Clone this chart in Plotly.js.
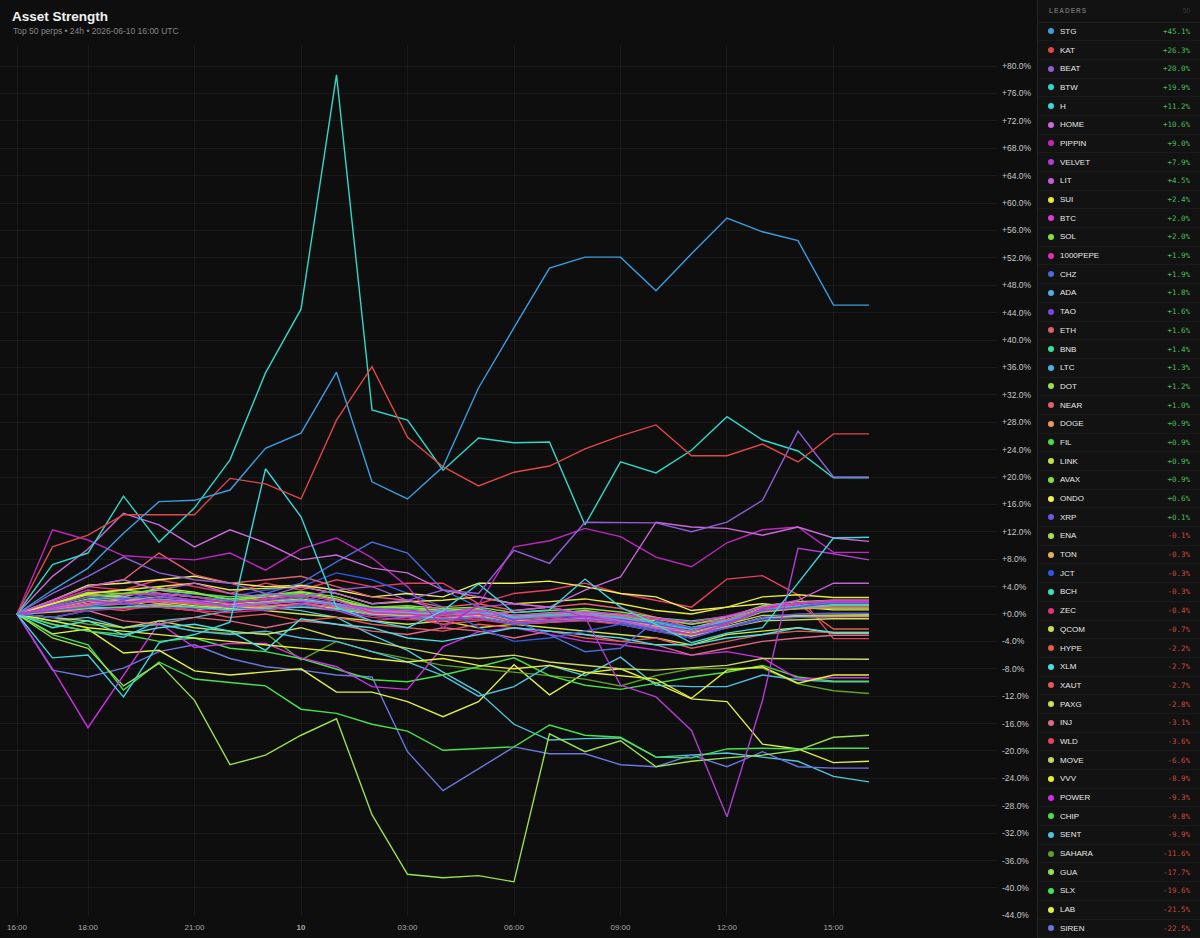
<!DOCTYPE html>
<html><head><meta charset="utf-8">
<script src="https://cdn.plot.ly/plotly-3.0.1.min.js"></script>
<style>
html,body{margin:0;padding:0;background:#0e0e0e;width:1200px;height:938px;overflow:hidden;font-family:"Liberation Sans",Arial,sans-serif;}
#chart{position:absolute;left:0;top:0;width:1037px;height:938px;}
#panel{position:absolute;left:1037px;top:0;width:163px;height:938px;background:#121212;border-left:1px solid #232323;box-sizing:border-box;overflow:hidden;}
.hdr{height:22.5px;display:flex;align-items:center;justify-content:space-between;padding:0 10px 0 11px;border-bottom:1px solid #1e1e1e;box-sizing:border-box;font-size:6.5px;font-weight:bold;letter-spacing:1px;color:#6a6a6a;}
.hdr .n{color:#3a3a3a;font-weight:normal;letter-spacing:0}
.row{height:18.7px;display:flex;align-items:center;padding:0 10px 0 10px;border-bottom:1px solid #1a1a1a;box-sizing:border-box;}
.dot{width:6px;height:6px;border-radius:50%;margin-right:6px;flex:none;}
.nm{flex:1;font-size:8px;color:#e8e8e8;}
.val{font-family:"DejaVu Sans Mono","Liberation Mono",monospace;font-size:7.5px;}
</style></head>
<body>
<div id="chart"></div>
<div id="panel"></div>
<script>
// hours since 2026-06-09 16:00 UTC (hourly samples)
const hours = [0,1,2,3,4,5,6,7,8,9,10,11,12,13,14,15,16,17,18,19,20,21,22,23,24];
const tickHours = [0,2,5,8,11,14,17,20,23];
const tickLabels = ['16:00','18:00','21:00','<b>10</b>','03:00','06:00','09:00','12:00','15:00'];

const names = ['STG','KAT','BEAT','BTW','H','HOME','PIPPIN','VELVET','LIT','SUI','BTC','SOL','1000PEPE','CHZ','ADA','TAO','ETH','BNB','LTC','DOT','NEAR','DOGE','FIL','LINK','AVAX','ONDO','XRP','ENA','TON','JCT','BCH','ZEC','QCOM','HYPE','XLM','XAUT','PAXG','INJ','WLD','MOVE','VVV','POWER','CHIP','SENT','SAHARA','GUA','SLX','LAB','SIREN','…'];
const colors = ['#3b9ee0','#e04848','#8e5fd6','#2fd8c8','#38d8e0','#c86ad8','#c026c0','#b03ed0','#c060d8','#e8e83a','#e03ad8','#80e040','#e030b8','#4a6ad8','#4ab0e8','#7a4ae0','#e06070','#3ae0a0','#4ab0e8','#98e050','#e06070','#e89a58','#48e040','#c0e050','#88e040','#f0f058','#6a58e0','#a8e050','#e8b058','#3058e0','#38e0c8','#e03080','#c8e058','#e06048','#48e0e0','#e05858','#d0e048','#e06888','#e84060','#c8d860','#e8f030','#d030e8','#48e048','#50c0e0','#60a028','#98e050','#48e050','#e0f048','#6878e0','#50c8d8'];

// % change from 16:00, one array per perp
const s_STG = [0,3.5,6.7,11.8,16.4,16.6,18.1,24.2,26.4,35.3,19.3,16.8,21.5,33.0,41.8,50.5,52.1,52.1,47.2,52.6,57.8,55.8,54.5,45.1,45.1];
const s_KAT = [0,9.8,11.5,14.5,14.5,14.5,19.8,19.0,16.8,28.3,36.1,25.8,21.5,18.7,20.7,21.6,24.1,26.0,27.6,23.1,23.1,24.8,22.2,26.3,26.3];
const s_BEAT = [0,3.0,5.5,8.3,6.0,5.0,4.5,3.0,2.5,3.5,4.0,2.0,3.5,3.0,9.3,7.4,13.4,13.3,13.3,12.0,13.4,16.6,26.7,20.0,20.0];
const s_BTW = [0,7.2,8.9,17.2,10.5,15.5,22.5,35.2,44.5,78.7,29.8,28.3,21.0,25.7,25.0,25.1,13.0,22.2,20.6,23.9,28.8,25.4,23.8,19.9,19.9];
const s_H = [0,-6.4,-6.0,-12.1,-4.2,-3.0,-1.2,21.2,14.2,1.0,-1.0,-2.0,0.5,4.4,0.2,0.6,5.1,1.0,-1.5,-4.2,-2.8,-2.0,4.5,11.1,11.2];
const s_HOME = [0,5.5,9.5,14.7,13.0,9.8,12.3,10.4,7.9,8.6,6.7,6.0,3.5,2.5,1.5,1.0,3.5,5.4,13.4,12.7,12.5,11.5,12.7,11.1,10.6];
const s_PIPPIN = [0,12.3,10.8,8.5,8.2,7.9,8.9,6.4,9.5,11.1,8.2,4.0,-2.0,1.3,9.8,10.7,12.5,11.3,8.3,6.9,10.4,12.3,12.7,9.0,9.0];
const s_VELVET = [0,1.0,2.0,1.5,2.5,2.0,1.0,0.5,1.5,0.5,-1.0,-0.5,0.0,1.0,1.5,1.0,-0.4,-10.4,-12.1,-17.0,-29.6,-12.6,9.6,8.8,7.9];
const s_LIT = [0,2.0,4.0,5.0,3.5,4.5,3.0,2.5,4.0,3.0,1.5,2.0,0.5,-0.5,0.5,1.0,0.0,-1.0,-2.0,-2.5,-0.5,1.0,2.0,4.5,4.5];
const s_SUI = [0,1.5,3.0,3.5,4.0,4.5,3.5,3.8,4.0,3.0,1.5,1.8,2.0,2.5,1.5,1.8,2.2,1.5,0.5,0.0,1.0,2.5,2.8,2.4,2.4];
const s_BTC = [0,0.8,1.5,1.8,2.0,1.7,1.2,1.5,1.8,1.3,0.6,0.4,0.2,0.5,-0.2,0.1,0.3,0.0,-0.6,-1.2,-0.3,1.0,1.6,2.0,2.0];
const s_SOL = [0,1.5,3.2,3.0,3.5,3.0,2.2,2.8,3.3,2.5,1.0,1.2,0.8,1.0,0.2,0.5,0.8,0.3,-0.5,-1.5,-0.5,1.2,1.8,2.0,2.0];
const s_1000PEPE = [0,1.8,3.5,2.8,3.0,2.5,1.5,2.2,2.8,2.0,0.2,0.0,-0.5,0.0,-1.2,-0.8,-0.5,-1.0,-2.0,-3.0,-1.5,0.8,1.5,1.9,1.9];
const s_CHZ = [0,0.5,1.0,2.0,3.5,2.5,2.0,3.0,4.5,7.6,10.5,8.9,3.5,1.0,-1.0,-3.0,-5.5,-5.0,-1.0,-2.0,-1.5,0.5,1.0,1.9,1.9];
const s_ADA = [0,1.0,2.0,2.5,2.0,1.8,1.0,1.5,2.0,1.5,0.5,0.0,0.5,0.2,-0.5,-0.2,0.0,-0.5,-1.2,-2.0,-1.0,0.5,1.2,1.8,1.8];
const s_TAO = [0,1.2,2.5,2.2,2.8,2.0,1.8,2.0,2.5,1.5,0.8,0.6,0.0,0.3,-0.8,-0.5,-0.3,-0.8,-1.5,-2.5,-1.2,0.6,1.0,1.6,1.6];
const s_ETH = [0,0.5,1.2,1.5,1.8,1.5,1.0,1.2,1.5,1.0,0.2,0.0,-0.2,0.0,-0.5,-0.3,0.0,-0.3,-0.8,-1.5,-0.8,0.6,1.2,1.6,1.6];
const s_BNB = [0,0.4,0.9,1.0,1.2,1.0,0.6,0.8,1.0,0.7,0.2,0.1,0.0,0.2,-0.2,0.0,0.2,-0.1,-0.5,-1.0,-0.4,0.5,1.0,1.4,1.4];
const s_LTC = [0,1.0,2.0,1.5,2.2,1.8,1.2,1.6,2.0,1.2,0.3,0.2,0.0,0.4,-0.6,-0.2,0.0,-0.6,-1.5,-2.2,-1.0,0.5,1.0,1.3,1.3];
const s_DOT = [0,1.5,3.0,3.5,3.0,2.5,2.0,2.5,2.8,2.0,0.8,1.0,0.5,0.8,-0.3,0.0,0.5,-0.2,-1.0,-2.0,-0.8,0.8,1.0,1.2,1.2];
const s_NEAR = [0,2.0,4.0,5.0,8.9,5.7,4.5,5.0,5.5,4.0,2.5,2.0,1.0,1.5,0.5,1.0,1.5,0.8,-0.5,-2.0,-1.0,0.5,1.0,1.0,1.0];
const s_DOGE = [0,0.8,1.8,2.2,2.0,1.5,1.0,1.8,2.5,1.5,0.5,0.3,0.0,0.2,-0.8,-0.5,-0.2,-0.8,-1.8,-2.5,-1.5,0.3,0.8,0.9,0.9];
const s_FIL = [0,1.2,2.5,3.0,3.5,3.0,2.5,2.8,3.0,2.0,1.0,0.8,0.5,0.6,-0.2,0.2,0.4,-0.3,-1.2,-2.0,-1.0,0.4,0.8,0.9,0.9];
const s_LINK = [0,1.5,2.8,2.5,3.8,3.2,2.0,2.5,3.2,2.2,0.8,0.5,0.2,0.5,-0.5,-0.2,0.2,-0.5,-1.5,-2.2,-1.0,0.5,0.9,0.9,0.9];
const s_AVAX = [0,1.0,2.2,2.8,3.0,2.5,1.8,2.2,2.8,2.0,0.5,0.6,0.3,0.2,-0.6,-0.3,0.0,-0.6,-1.6,-2.6,-1.2,0.4,0.8,0.9,0.9];
const s_ONDO = [0,2.0,4.2,4.5,5.0,5.5,4.5,4.0,4.2,3.5,2.5,3.0,2.5,4.5,4.5,4.8,4.0,3.0,2.5,0.5,1.0,1.5,1.0,0.6,0.6];
const s_XRP = [0,0.5,1.0,1.5,1.2,0.8,0.5,0.8,1.2,0.5,-0.2,-0.5,-0.8,-0.5,-1.5,-1.0,-0.8,-1.2,-2.2,-3.0,-2.0,-0.5,0.0,0.1,0.1];
const s_ENA = [0,0.8,1.5,2.0,2.5,2.0,1.5,1.8,2.2,1.5,0.5,0.2,0.0,0.0,-0.8,-0.5,-0.2,-0.8,-1.8,-2.8,-1.5,-0.2,-0.2,-0.1,-0.1];
const s_TON = [0,0.3,0.8,1.0,1.5,1.0,0.5,1.0,1.5,1.0,0.0,-0.2,-0.5,-0.2,-1.0,-0.8,-0.5,-1.0,-2.0,-3.2,-1.8,-0.5,-0.3,-0.3,-0.3];
const s_JCT = [0,-0.5,0.5,1.0,2.5,3.0,2.5,3.5,4.0,6.0,5.0,3.0,1.0,-2.0,-4.0,-3.5,-2.5,-1.5,-2.5,-3.5,-2.0,-0.8,-0.5,-0.3,-0.3];
const s_BCH = [0,0.5,1.2,1.8,2.0,1.5,1.0,1.5,2.0,1.2,0.0,-0.3,-0.6,-0.3,-1.2,-1.0,-0.6,-1.2,-2.2,-3.0,-1.8,-0.6,-0.4,-0.3,-0.3];
const s_ZEC = [0,0.2,0.5,0.8,1.0,0.5,0.2,0.6,1.0,0.5,-0.5,-0.8,-1.0,-0.8,-1.5,-1.2,-1.0,-1.5,-2.5,-3.5,-2.0,-0.8,-0.5,-0.4,-0.4];
const s_QCOM = [0,0.5,1.5,2.0,1.8,1.2,0.8,1.2,1.5,0.8,-0.2,-0.5,-0.8,-0.5,-1.5,-1.2,-0.8,-1.5,-2.5,-3.2,-2.0,-1.0,-0.8,-0.7,-0.7];
const s_HYPE = [0,1.0,3.0,2.5,1.5,2.0,1.0,0.5,1.5,2.0,0.5,-0.5,-1.5,-1.0,0.5,1.0,0.0,-1.0,-2.0,-3.0,-1.5,0.5,1.5,-2.2,-2.2];
const s_XLM = [0,-2.0,-1.0,-3.0,-2.0,-1.5,-2.5,-5.3,-0.7,-1.5,-2.0,-3.5,-4.0,-3.0,-2.0,-2.5,-3.0,-3.5,-4.5,-4.5,-3.5,-3.0,-2.0,-2.7,-2.7];
const s_XAUT = [0,0.5,1.0,0.5,1.5,0.5,-0.5,0.0,-1.0,-0.5,-1.5,-2.0,-2.5,-1.5,-2.0,-2.5,-3.5,-4.0,-3.5,-5.0,-4.0,-3.0,-2.5,-2.7,-2.7];
const s_PAXG = [0,0.5,1.5,2.0,1.0,0.5,1.5,0.5,0.0,-0.5,-1.0,-1.5,-1.0,-2.0,-1.5,-2.0,-2.5,-3.0,-3.5,-4.5,-3.0,-2.5,-2.0,-2.8,-2.8];
const s_INJ = [0,-0.5,0.5,-1.0,-1.5,-0.5,-1.0,-2.0,-1.0,-1.5,-2.5,-3.0,-2.0,-2.5,-3.5,-2.5,-3.0,-4.0,-4.5,-6.0,-5.0,-4.0,-3.5,-3.1,-3.1];
const s_WLD = [0,2.0,4.0,3.5,5.0,4.0,3.0,4.5,3.5,5.0,4.0,4.5,4.5,1.5,3.0,3.5,4.5,3.0,2.0,1.0,5.1,5.6,2.8,-3.6,-3.6];
const s_MOVE = [0,-0.5,-1.0,-2.0,-1.0,-2.0,-2.5,-3.0,-2.0,-3.5,-4.0,-5.0,-6.0,-6.5,-6.0,-7.0,-7.5,-8.0,-8.2,-7.9,-7.5,-6.5,-6.5,-6.6,-6.6];
const s_VVV = [0,-1.0,-2.0,-2.5,-3.0,-3.5,-4.0,-4.5,-5.0,-5.5,-6.5,-7.0,-6.5,-7.5,-8.0,-7.5,-8.5,-9.0,-9.5,-12.3,-8.2,-7.7,-10.1,-8.9,-8.9];
const s_POWER = [0,-8.0,-16.6,-9.0,-1.3,-4.9,-4.3,-4.3,-6.4,-7.7,-10.6,-11.0,-4.8,-2.6,-2.0,-3.0,-4.0,-4.5,-5.3,-6.0,-5.5,-6.4,-9.5,-9.3,-9.3];
const s_CHIP = [0,-1.5,-2.5,-3.0,-4.0,-3.5,-5.0,-5.5,-6.5,-8.0,-9.6,-9.9,-8.9,-7.7,-6.4,-9.0,-10.4,-11.0,-10.1,-9.2,-8.5,-7.5,-9.2,-9.8,-9.8];
const s_SENT = [0,-1.0,-0.5,-2.0,-1.5,-2.5,-3.0,-2.5,-3.5,-4.0,-5.5,-7.0,-9.0,-12.0,-10.6,-7.5,-9.0,-6.3,-10.4,-10.6,-10.6,-8.9,-9.6,-9.9,-9.9];
const s_SAHARA = [0,-0.5,-1.5,-2.0,-1.5,-2.5,-2.8,-2.8,-6.7,-4.0,-5.5,-6.5,-7.5,-8.0,-8.5,-9.0,-9.5,-10.5,-9.0,-8.0,-7.9,-7.9,-10.2,-11.2,-11.6];
const s_GUA = [0,-3.5,-5.0,-10.5,-7.2,-12.6,-22.0,-20.6,-17.7,-15.3,-29.3,-38.0,-38.5,-38.2,-39.1,-17.5,-20.1,-18.5,-22.3,-21.5,-21.0,-20.6,-19.9,-18.0,-17.7];
const s_SLX = [0,-3.0,-4.5,-11.1,-7.0,-9.5,-10.0,-10.5,-13.9,-14.5,-16.1,-17.1,-19.9,-19.7,-19.4,-16.2,-17.7,-18.0,-20.9,-21.0,-19.7,-19.6,-19.7,-19.6,-19.6];
const s_LAB = [0,-2.9,-2.2,-5.7,-5.3,-8.3,-8.9,-8.5,-8.0,-11.4,-11.4,-12.8,-15.0,-12.8,-7.4,-11.8,-8.6,-8.0,-10.1,-12.4,-12.8,-19.0,-19.7,-21.7,-21.5];
const s_SIREN = [0,-8.2,-9.2,-7.9,-5.5,-4.5,-6.5,-7.7,-8.2,-8.9,-9.2,-20.1,-25.8,-22.6,-19.4,-20.4,-20.4,-22.0,-22.3,-20.6,-22.3,-20.1,-22.3,-22.5,-22.5];
const s_50 = [0,-1.5,-2.5,-3.4,-1.0,-0.5,0.5,1.0,0.5,-0.5,-3.1,-5.3,-8.5,-11.4,-16.1,-18.4,-18.2,-18.1,-20.9,-20.6,-20.3,-20.9,-21.5,-23.7,-24.5];

const seriesList = [s_STG,s_KAT,s_BEAT,s_BTW,s_H,s_HOME,s_PIPPIN,s_VELVET,s_LIT,s_SUI,s_BTC,s_SOL,s_1000PEPE,s_CHZ,s_ADA,s_TAO,s_ETH,s_BNB,s_LTC,s_DOT,s_NEAR,s_DOGE,s_FIL,s_LINK,s_AVAX,s_ONDO,s_XRP,s_ENA,s_TON,s_JCT,s_BCH,s_ZEC,s_QCOM,s_HYPE,s_XLM,s_XAUT,s_PAXG,s_INJ,s_WLD,s_MOVE,s_VVV,s_POWER,s_CHIP,s_SENT,s_SAHARA,s_GUA,s_SLX,s_LAB,s_SIREN,s_50];

const yTicks = [];
for (let v = -44; v <= 80; v += 4) yTicks.push(v);
const yTickText = yTicks.map(v => (v >= 0 ? '+' : '-') + Math.abs(v).toFixed(1) + '%');

const traces = [];
for (let i = seriesList.length - 1; i >= 0; i--) {
  traces.push({
    type: 'scatter', mode: 'lines', x: hours, y: seriesList[i], name: names[i],
    line: {color: colors[i], width: 1.4}, hoverinfo: 'skip', showlegend: false
  });
}

const W = 1037, H = 938, ml = 0, mr = 40, mt = 45, mb = 22;
const layout = {
  width: W, height: H,
  margin: {l: ml, r: mr, t: mt, b: mb, pad: 0},
  paper_bgcolor: '#0e0e0e', plot_bgcolor: '#0e0e0e',
  font: {family: '"Liberation Sans", Arial, sans-serif', color: '#cfcfcf'},
  title: {
    text: '<b>Asset Strength</b>', xref: 'container', yref: 'container',
    x: 12 / W, xanchor: 'left', y: 1 - 16 / H, yanchor: 'middle',
    font: {size: 13.5, color: '#f2f2f2'}
  },
  annotations: [{
    text: 'Top 50 perps • 24h • 2026-06-10 16:00 UTC', xref: 'paper', yref: 'paper',
    x: 10.5 / (W - ml - mr), xanchor: 'left', y: 1 + (mt - 31) / (H - mt - mb), yanchor: 'middle',
    showarrow: false, font: {size: 8.5, color: '#858585'}
  }],
  xaxis: {
    range: [-0.479, 27.606], tickmode: 'array', tickvals: tickHours, ticktext: tickLabels,
    showgrid: true, gridcolor: 'rgba(255,255,255,0.05)', gridwidth: 1,
    zeroline: false, showline: false, ticks: '', ticklabelstandoff: 5,
    tickfont: {size: 8, color: '#a8a8a8'}, fixedrange: true
  },
  yaxis: {
    side: 'right', range: [-44.09, 83.07], tickmode: 'array', tickvals: yTicks, ticktext: yTickText,
    showgrid: true, gridcolor: 'rgba(255,255,255,0.05)', gridwidth: 1,
    zeroline: false, showline: false, ticks: '', ticklabelstandoff: 4,
    tickfont: {size: 8.5, color: '#c8c8c8'}, fixedrange: true
  },
  showlegend: false, hovermode: false
};

Plotly.newPlot('chart', traces, layout, {displayModeBar: false, staticPlot: true});

// leaders panel: only the rows that fit in the window are built
const panel = document.getElementById('panel');
const visibleRows = 49;
let html = '<div class="hdr"><span>LEADERS</span><span class="n">' + names.length + '</span></div>';
for (let i = 0; i < Math.min(visibleRows, names.length); i++) {
  const s = seriesList[i];
  const v = s[s.length - 1];
  const txt = (v >= 0 ? '+' : '-') + Math.abs(v).toFixed(1) + '%';
  const col = v >= 0 ? '#4cbb5a' : '#c9483a';
  html += '<div class="row"><span class="dot" style="background:' + colors[i] + '"></span>' +
          '<span class="nm">' + names[i] + '</span><span class="val" style="color:' + col + '">' + txt + '</span></div>';
}
panel.innerHTML = html;
</script>
</body></html>
